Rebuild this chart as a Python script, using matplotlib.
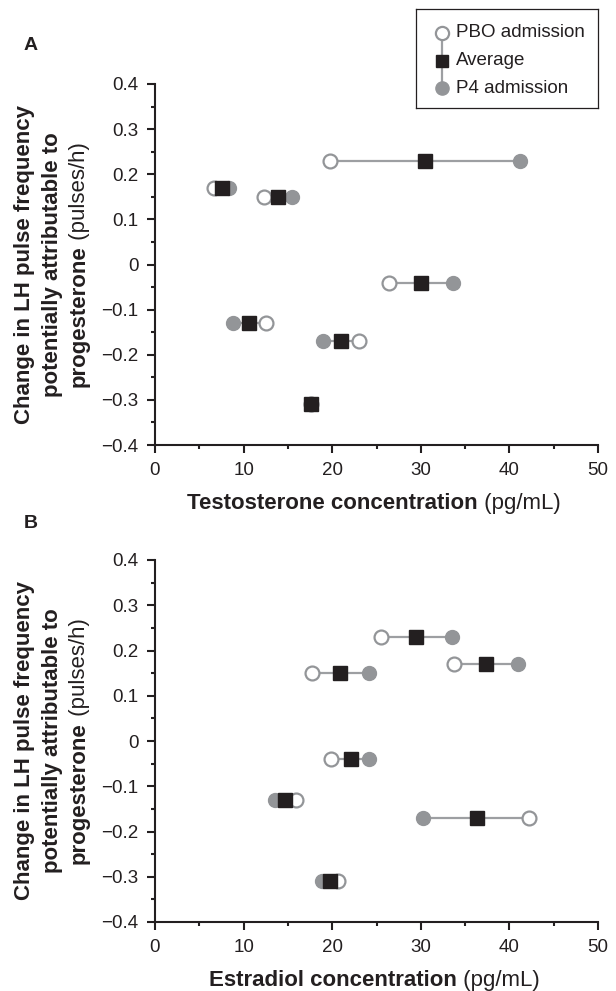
import numpy as np
import matplotlib.pyplot as plt
from matplotlib.ticker import MultipleLocator, FixedLocator

plt.rcParams['font.family'] = ['Liberation Sans', 'DejaVu Sans']

# Data
# Panel A: testosterone (pg/mL)
a_change = [0.23, 0.17, 0.15, -0.04, -0.13, -0.17, -0.31]
a_pbo = [19.8, 6.7, 12.3, 26.4, 12.5, 23.0, 17.6]
a_avg = [30.5, 7.6, 13.9, 30.0, 10.6, 21.0, 17.6]
a_p4 = [41.2, 8.4, 15.5, 33.6, 8.8, 19.0, 17.6]

# Panel B: estradiol (pg/mL)
b_change = [0.23, 0.17, 0.15, -0.04, -0.13, -0.17, -0.31]
b_pbo = [25.5, 33.7, 17.7, 19.9, 15.9, 42.2, 20.6]
b_avg = [29.5, 37.4, 20.9, 22.1, 14.7, 36.3, 19.8]
b_p4 = [33.5, 41.0, 24.1, 24.2, 13.5, 30.3, 18.9]

y_ticks = [-0.4, -0.3, -0.2, -0.1, 0, 0.1, 0.2, 0.3, 0.4]
y_ticklabels = ['\u22120.4', '\u22120.3', '\u22120.2', '\u22120.1', '0', '0.1', '0.2', '0.3', '0.4']
x_ticks = [0, 10, 20, 30, 40, 50]

ink = '#231f20'
grey = '#939598'
line_grey = '#9d9fa2'
fs_tick = 13.5
fs_lab = 16

fig = plt.figure(figsize=(6.16, 9.91), dpi=100)
W, H = 616, 991


def px_axes(x0, y0, x1, y1):
    return fig.add_axes([x0 / W, 1 - y1 / H, (x1 - x0) / W, (y1 - y0) / H])


def draw_panel(ax, change, pbo, avg, p4):
    for yv, a, b in zip(change, pbo, p4):
        ax.plot([a, b], [yv, yv], color=line_grey, lw=1.6, zorder=1)
    ax.plot(pbo, change, 'o', ms=10, mfc='white', mec=grey, mew=1.6, ls='none', zorder=2)
    ax.plot(p4, change, 'o', ms=10, mfc=grey, mec=grey, mew=1.0, ls='none', zorder=3)
    ax.plot(avg, change, 's', ms=9.5, mfc=ink, mec=ink, ls='none', zorder=4)
    ax.set_xlim(0, 50)
    ax.set_ylim(-0.4, 0.4)
    ax.xaxis.set_major_locator(FixedLocator(x_ticks))
    ax.xaxis.set_minor_locator(MultipleLocator(5))
    ax.yaxis.set_major_locator(FixedLocator(y_ticks))
    ax.set_yticklabels(y_ticklabels)
    ax.yaxis.set_minor_locator(MultipleLocator(0.05))
    for s in ['top', 'right']:
        ax.spines[s].set_visible(False)
    for s in ['left', 'bottom']:
        ax.spines[s].set_linewidth(1.5)
        ax.spines[s].set_color(ink)
    ax.tick_params(which='major', length=5.5, width=1.5, color=ink, labelsize=fs_tick,
                   labelcolor=ink, pad=6.5)
    ax.tick_params(which='minor', length=3, width=1.5, color=ink)
    for ln in ax.lines:
        ln.set_clip_on(False)


axA = px_axes(155, 84, 598, 445)
axB = px_axes(155, 560, 598, 922)
draw_panel(axA, a_change, a_pbo, a_avg, a_p4)
draw_panel(axB, b_change, b_pbo, b_avg, b_p4)

fig.text(31 / W, 1 - 46 / H, 'A', fontsize=14, fontweight='bold', color=ink, ha='center', va='center')
fig.text(31 / W, 1 - 523 / H, 'B', fontsize=14, fontweight='bold', color=ink, ha='center', va='center')

# y labels: two bold lines, then bold + normal on the third
pairs = []
for yc in [264.5, 741]:
    fig.text(25 / W, 1 - yc / H, 'Change in LH pulse frequency', rotation=90, fontsize=fs_lab,
             fontweight='bold', color=ink, ha='center', va='center')
    fig.text(53 / W, 1 - yc / H, 'potentially attributable to', rotation=90, fontsize=fs_lab,
             fontweight='bold', color=ink, ha='center', va='center')
    t1 = fig.text(85 / W, 1 - yc / H, 'progesterone', rotation=90, rotation_mode='anchor',
                  fontsize=fs_lab, fontweight='bold', color=ink, ha='left', va='baseline')
    t2 = fig.text(85 / W, 1 - yc / H, ' (pulses/h)', rotation=90, rotation_mode='anchor',
                  fontsize=fs_lab, color=ink, ha='left', va='baseline')
    pairs.append(('y', yc, t1, t2))

for txt, base in [('Testosterone concentration', 509), ('Estradiol concentration', 986)]:
    t1 = fig.text(0, 1 - base / H, txt, fontsize=fs_lab, fontweight='bold', color=ink,
                  ha='left', va='baseline')
    t2 = fig.text(0, 1 - base / H, ' (pg/mL)', fontsize=fs_lab, color=ink,
                  ha='left', va='baseline')
    pairs.append(('x', 374, t1, t2))

fig.canvas.draw()
r = fig.canvas.get_renderer()
for kind, c, t1, t2 in pairs:
    e1 = t1.get_window_extent(r)
    e2 = t2.get_window_extent(r)
    if kind == 'y':
        total = e1.height + e2.height
        start = (H - c) - total / 2
        x = t1.get_position()[0]
        t1.set_position((x, start / H))
        t2.set_position((x, (start + e1.height) / H))
    else:
        total = e1.width + e2.width
        start = c - total / 2
        y = t1.get_position()[1]
        t1.set_position((start / W, y))
        t2.set_position(((start + e1.width) / W, y))

# legend box
lg = px_axes(416, 9, 598, 108)
lg.set_xlim(0, 1)
lg.set_ylim(0, 1)
lg.set_xticks([])
lg.set_yticks([])
for s in lg.spines.values():
    s.set_linewidth(0.9)
    s.set_color(ink)
mx = 0.143
ys = [0.758, 0.475, 0.202]
lg.plot([mx, mx], [ys[0], ys[2]], color=line_grey, lw=1.6, zorder=1)
lg.plot([mx], [ys[0]], 'o', ms=9.5, mfc='white', mec=grey, mew=1.6, zorder=2)
lg.plot([mx], [ys[1]], 's', ms=9, mfc=ink, mec=ink, zorder=3)
lg.plot([mx], [ys[2]], 'o', ms=9.5, mfc=grey, mec=grey, zorder=2)
for yv, lab in zip(ys, ['PBO admission', 'Average', 'P4 admission']):
    lg.text(0.22, yv, lab, fontsize=fs_tick, color=ink, ha='left', va='center')

fig.savefig('out.png', dpi=100)
